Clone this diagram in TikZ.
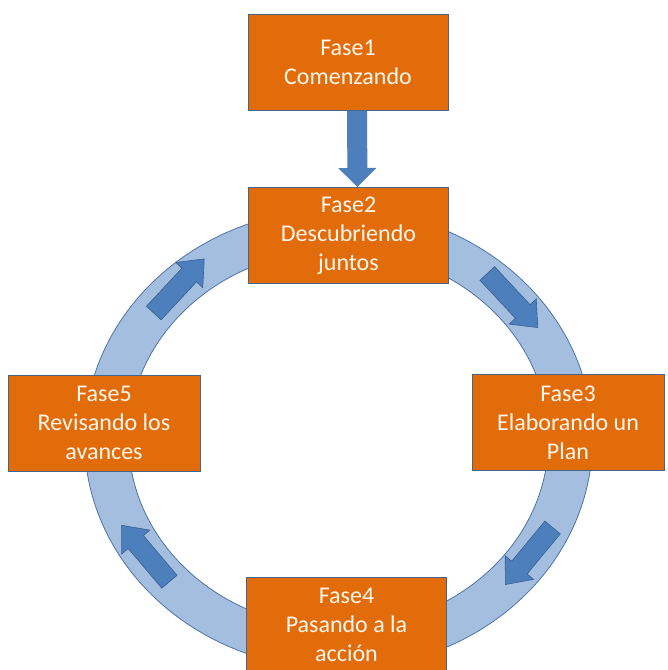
\documentclass[tikz,border=0pt]{standalone}
\usepackage{fontspec}
\setmainfont{Carlito}
\usetikzlibrary{arrows.meta}

\definecolor{faseorange}{RGB}{227,108,10}
\definecolor{faseborder}{RGB}{68,102,142}
\definecolor{ringblue}{RGB}{163,190,223}
\definecolor{ringedge}{RGB}{78,116,164}
\definecolor{arrowblue}{RGB}{77,127,188}
\definecolor{arrowedge}{RGB}{58,96,146}
\definecolor{fasetext}{RGB}{255,246,238}

\begin{document}
\begin{tikzpicture}[x=1pt, y=-1pt,
	fase/.style={draw=faseborder, line width=0.9pt, fill=faseorange, text=fasetext, align=center, inner sep=0pt, minimum height=96pt, font=\fontsize{24}{29}\selectfont},
	ringline/.style={draw=ringedge, line width=0.8pt},
	bigarrow/.style={arrowblue, line width=20pt, -{Triangle[width=37pt, length=19pt]}},
	cyclearrow/.pic={
		\filldraw [fill=arrowblue, draw=arrowedge, line width=0.6pt] (-37, -10) -- (15, -10) -- (15, -18.5) -- (37, 0) -- (15, 18.5) -- (15, 10) -- (-37, 10) -- cycle;
	}]
	\useasboundingbox (0, 0) rectangle (668, 670);

	\coordinate (c) at (338.5, 439);
	\fill [ringblue, even odd rule] (c) ellipse [x radius=254pt, y radius=230pt] (c) ellipse [x radius=210pt, y radius=189pt];
	\draw [ringline] (c) ellipse [x radius=254pt, y radius=230pt];
	\draw [ringline] (c) ellipse [x radius=210pt, y radius=189pt];

	\pic [rotate=47] at (179, 286) {cyclearrow};
	\pic [rotate=-47] at (512.5, 300.5) {cyclearrow};
	\pic [rotate=-129.6] at (529, 556) {cyclearrow};
	\pic [rotate=130.3] at (145.5, 553.5) {cyclearrow};

	\node [fase, minimum width=200pt] at (348, 62.5) (f1) {Fase1\\Comenzando};
	\node [fase, minimum width=200pt] at (348.5, 235.5) (f2) {Fase2\\Descubriendo\\juntos};
	\node [fase, minimum width=192pt] at (568, 422.5) (f3) {Fase3\\Elaborando un\\Plan};
	\node [fase, minimum width=200pt] at (346.5, 625) (f4) {Fase4\\Pasando a la\\acción};
	\node [fase, minimum width=192pt] at (104, 423) (f5) {Fase5\\Revisando los\\avances};

	\draw [bigarrow] ([xshift=9pt]f1.south) -- ([xshift=9pt]f2.north);
\end{tikzpicture}
\end{document}
